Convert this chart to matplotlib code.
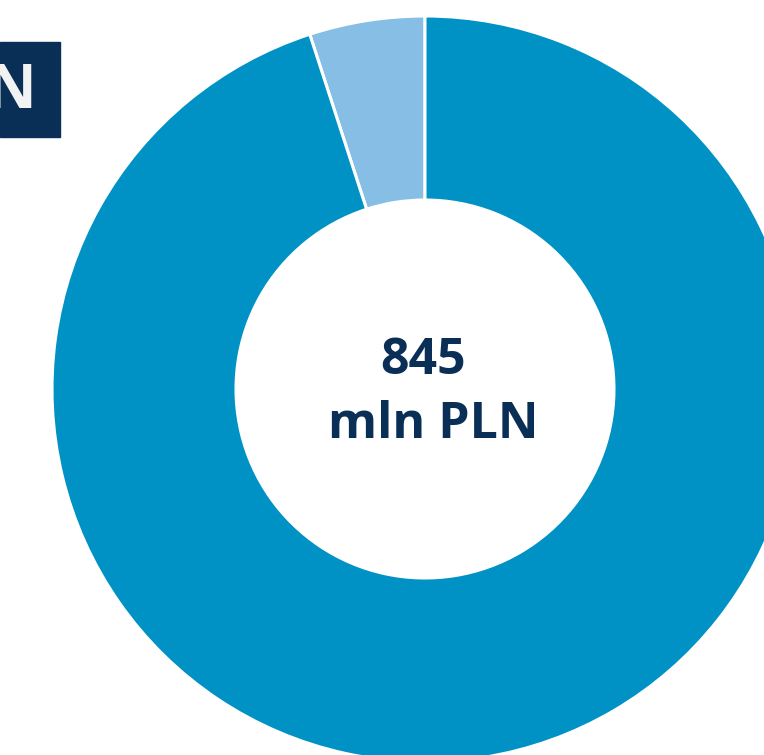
import matplotlib.pyplot as plt
from matplotlib.patches import Rectangle

# Data: share of the total (light slice is the small part on the top left)
shares = [5, 95]
colors = ['#86BEE5', '#0092C5']
total_value = '845'
total_unit = 'mln PLN'
navy = '#0A2F57'

W, H = 764, 755
fig = plt.figure(figsize=(W / 100, H / 100), dpi=100)
ax = fig.add_axes([0, 0, 1, 1])

# Donut: centre and radii in pixels of the picture
cx, cy = 425, H - 389
R, r = 373, 189
ax.pie(shares, colors=colors, startangle=90, counterclock=True,
       center=(cx, cy), radius=R,
       wedgeprops=dict(width=R - r, edgecolor='white', linewidth=2.2))

ax.set_xlim(0, W)
ax.set_ylim(0, H)
ax.set_aspect('equal')
ax.axis('off')

# Centre label
ax.text(423, H - 361, total_value, ha='center', va='center',
        fontsize=36, fontweight='bold', color=navy, family='Open Sans')
ax.text(433, H - 425, total_unit, ha='center', va='center',
        fontsize=36, fontweight='bold', color=navy, family='Open Sans')

# Cut-off title box at the top left
ax.add_patch(Rectangle((0, H - 137), 60, 95, color=navy, zorder=3))
ax.text(36, H - 92, 'N', ha='right', va='center', fontsize=44,
        fontweight='bold', color='#F2F2F2', family='Open Sans', zorder=4)

fig.savefig('out.png', dpi=100)
